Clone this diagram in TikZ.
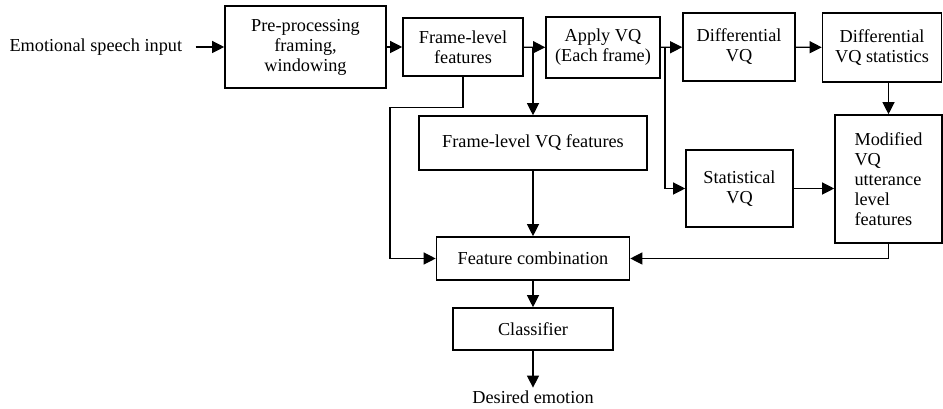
\documentclass[tikz,border=0pt]{standalone}
\usepackage{fontspec}
\setmainfont{Liberation Serif}
\usetikzlibrary{arrows.meta}
\newcommand{\pxu}{0.75pt}

\begin{document}
\begin{tikzpicture}[x=0.75pt, y=-0.75pt]
        \tikzstyle{block}=[draw,line width=1.2pt,align=center,inner sep=2pt,font=\fontsize{13.7}{15}\selectfont]
        \tikzstyle{label}=[inner sep=2pt,font=\fontsize{13.7}{15}\selectfont]
        \tikzstyle{arr}=[line width=0.9pt,-{Triangle[length=9pt,width=9pt]}]
        \useasboundingbox (0,0) rectangle (943,409);

        \node[label,anchor=east] (In) at (185,47) {Emotional speech input};
        \node[block,minimum width=161*\pxu,minimum height=82*\pxu] (Pre) at (305.5,47) {Pre-processing\\framing,\\windowing};
        \node[block,minimum width=120*\pxu,minimum height=58*\pxu] (FL) at (463,47) {Frame-level\\features};
        \node[block,minimum width=114*\pxu,minimum height=61*\pxu] (AVQ) at (603,47.5) {Apply VQ\\(Each frame)};
        \node[block,minimum width=112*\pxu,minimum height=68*\pxu] (DVQ) at (739,47) {Differential\\VQ};
        \node[block,minimum width=119*\pxu,minimum height=69*\pxu] (DVQS) at (882,47.5) {Differential\\VQ statistics};
        \node[block,minimum width=228*\pxu,minimum height=54*\pxu] (FLVQ) at (533,143) {Frame-level VQ features};
        \node[block,minimum width=107*\pxu,minimum height=77*\pxu] (SVQ) at (739.5,188.5) {Statistical\\VQ};
        \node[block,align=left,minimum width=107*\pxu,minimum height=128*\pxu] (Mod) at (888.5,179) {Modified\\VQ\\utterance\\level\\features};
        \node[block,minimum width=193*\pxu,minimum height=43*\pxu] (FC) at (533,258.5) {Feature combination};
        \node[block,minimum width=160*\pxu,minimum height=42*\pxu] (Cls) at (533,329) {Classifier};
        \node[label] (Out) at (533,397) {Desired emotion};

        \coordinate (Br_1) at (533,47);
        \coordinate (Br_2) at (665,47);

        \draw[arr] ([xshift=8]In.east) -- (Pre);
        \draw[arr] (Pre) -- (FL);
        \draw[arr] (FL) -- (AVQ);
        \draw[arr] (Br_1) -- (FLVQ);
        \draw[arr] (AVQ) -- (DVQ);
        \draw[arr] (Br_2) |- (SVQ);
        \draw[arr] (DVQ) -- (DVQS);
        \draw[arr] (DVQS.south -| Mod) -- (Mod);
        \draw[arr] (SVQ) -- (SVQ -| Mod.west);
        \draw[arr] (Mod.south) |- (FC.east);
        \draw[arr] (FL.south) -- ++(0,31) -- ++(-73,0) |- (FC.west);
        \draw[arr] (FLVQ) -- (FC);
        \draw[arr] (FC) -- (Cls);
        \draw[arr] (Cls) -- (Out);
    \end{tikzpicture}
\end{document}
